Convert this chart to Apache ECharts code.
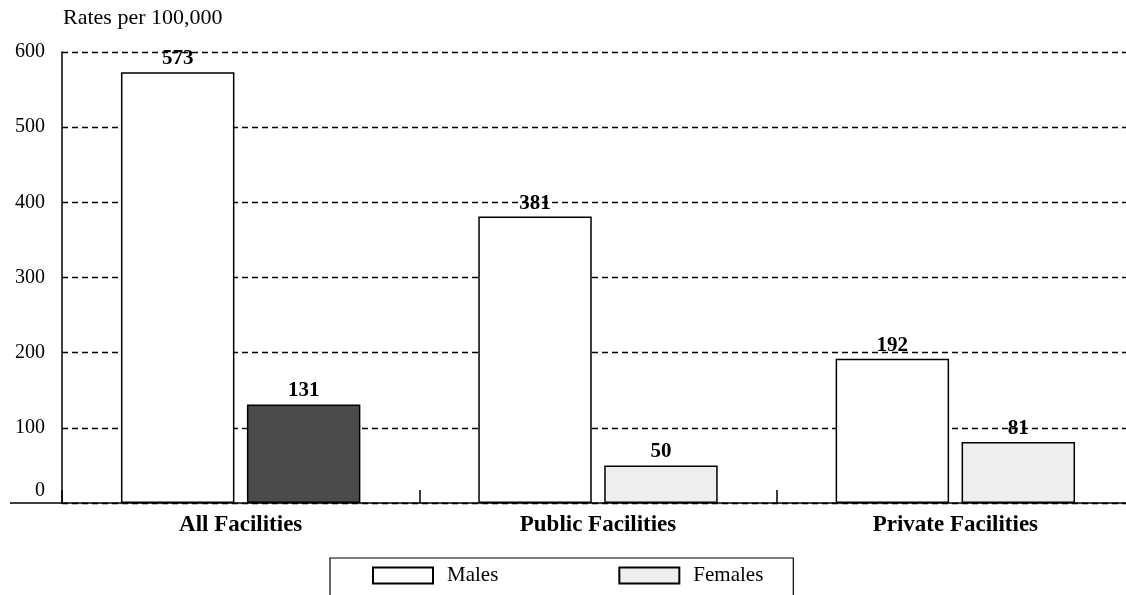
<!DOCTYPE html>
<html>
<head>
<meta charset="utf-8">
<script src="https://cdn.jsdelivr.net/npm/echarts@6/dist/echarts.min.js"></script>
<style>
  html, body { margin: 0; padding: 0; background: #fff; overflow: hidden; }
  #chart { width: 1140px; height: 595px; }
</style>
</head>
<body>
<div id="chart"></div>
<script>
const facilities = ['All Facilities', 'Public Facilities', 'Private Facilities']
const maleRates = [573, 381, 192]
const femaleRates = [131, 50, 81]
const yTicks = [0, 100, 200, 300, 400, 500, 600]

const serif = '"Liberation Serif", "Times New Roman", serif'

const chart = echarts.init(document.getElementById('chart'))

const valueLabel = {
  show: true,
  position: 'top',
  distance: 3,
  color: '#000',
  fontFamily: serif,
  fontWeight: 'bold',
  fontSize: 21,
}

chart.setOption({
  backgroundColor: '#fff',
  animation: false,
  textStyle: { fontFamily: serif },
  // plot runs a little past the right edge of the page, like the original scan
  grid: { left: 62, right: 6, top: 52, bottom: 92 },
  graphic: [{
    type: 'line',
    shape: { x1: 10, y1: 503, x2: 62, y2: 503 },
    style: { stroke: '#000', lineWidth: 1.5 },
  }, {
    type: 'text',
    left: 63,
    top: 7,
    style: { text: 'Rates per 100,000', font: '22px ' + serif, fill: '#000' },
  }],
  legend: {
    left: 330,
    top: 558,
    padding: [7, 30, 12, 42],
    borderColor: '#000',
    borderWidth: 1.2,
    itemWidth: 60,
    itemHeight: 16,
    itemGap: 120,
    icon: 'rect',
    textStyle: { fontFamily: serif, fontSize: 21, color: '#000', padding: [0, 0, 0, 9] },
    data: ['Males', 'Females'],
  },
  xAxis: {
    type: 'category',
    data: facilities,
    axisLine: { lineStyle: { color: '#000', width: 1.5 } },
    axisTick: { show: true, inside: true, length: 13, lineStyle: { color: '#000', width: 1.5 } },
    axisLabel: { color: '#000', fontFamily: serif, fontWeight: 'bold', fontSize: 23, margin: 11 },
  },
  yAxis: {
    type: 'value',
    min: yTicks[0],
    max: yTicks[yTicks.length - 1],
    interval: 100,
    axisLine: { show: true, lineStyle: { color: '#000', width: 1.5 } },
    axisTick: { show: false },
    axisLabel: {
      color: '#000',
      fontFamily: serif,
      fontSize: 20,
      margin: 17,
      formatter: v => (v === 0 ? '{zero|0}' : String(v)),
      rich: {
        zero: { fontFamily: serif, fontSize: 20, color: '#000', padding: [0, 0, 24, 0] },
      },
    },
    splitLine: {
      show: true,
      lineStyle: { color: '#000', width: 1.4, type: [6, 4] },
    },
  },
  series: [{
    name: 'Males',
    type: 'bar',
    data: maleRates,
    barGap: '11%',
    barCategoryGap: '33%',
    itemStyle: { color: '#fff', borderColor: '#000', borderWidth: 1.5 },
    label: valueLabel,
  }, {
    name: 'Females',
    type: 'bar',
    data: femaleRates.map((v, i) => (i === 0
      ? { value: v, itemStyle: { color: '#4a4a4a' } }
      : v)),
    itemStyle: { color: '#eeeeee', borderColor: '#000', borderWidth: 1.5 },
    label: valueLabel,
  }],
})
</script>
</body>
</html>
